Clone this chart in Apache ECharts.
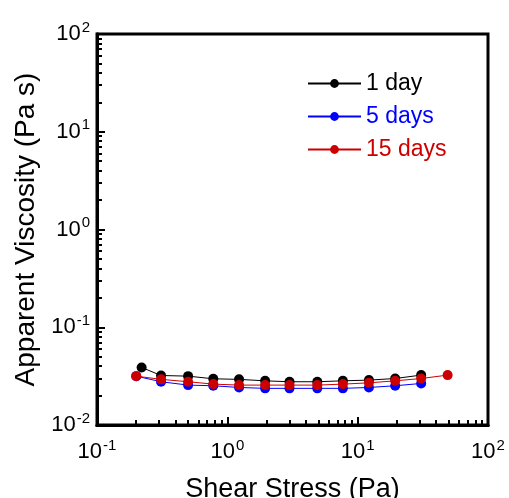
<!DOCTYPE html>
<html><head><meta charset="utf-8">
<script src="https://cdn.jsdelivr.net/npm/echarts@6/dist/echarts.min.js"></script>
<style>html,body{margin:0;padding:0;background:#fff}#c{width:509px;height:498px}</style>
</head><body><div id="c"></div>
<script>
// Shear stress (Pa) and apparent viscosity (Pa s)
const stress1 = [0.22, 0.31, 0.5, 0.78, 1.23, 1.95, 3.0, 4.9, 7.7, 12.2, 19.4, 30.7];
const visc1   = [0.0388, 0.0321, 0.0316, 0.0297, 0.0293, 0.0283, 0.0277, 0.0277, 0.0283, 0.0288, 0.0299, 0.0324];
const stress5 = [0.2, 0.31, 0.5, 0.78, 1.23, 1.95, 3.0, 4.9, 7.7, 12.2, 19.4, 30.7];
const visc5   = [0.0316, 0.0277, 0.0256, 0.0252, 0.0242, 0.0237, 0.0237, 0.0237, 0.0237, 0.0242, 0.0252, 0.0266];
const stress15 = [0.2, 0.31, 0.5, 0.78, 1.23, 1.95, 3.0, 4.9, 7.7, 12.2, 19.4, 30.7, 49];
const visc15   = [0.0316, 0.0293, 0.0277, 0.0262, 0.0256, 0.0256, 0.0256, 0.0256, 0.0262, 0.027, 0.0283, 0.0299, 0.0324];
const seriesNames = ['1 day', '5 days', '15 days'];
const seriesColors = ['#000000', '#0000ff', '#cc0000'];
const xMinorTicks = [0.2,0.3,0.4,0.5,0.6,0.7,0.8,0.9,2,3,4,5,6,7,8,9,20,30,40,50,60,70,80,90];
const yMinorTicks = [0.02,0.03,0.04,0.05,0.06,0.07,0.08,0.09,0.2,0.3,0.4,0.5,0.6,0.7,0.8,0.9,2,3,4,5,6,7,8,9,20,30,40,50,60,70,80,90];

const FONT = 'Liberation Sans';
const pairs = (xs, ys) => xs.map((x, i) => [x, ys[i]]);
const richLabel = {
  b: {fontSize: 22, fontFamily: FONT, color: '#000', verticalAlign: 'bottom', padding: [3, 0, 3, 0]},
  s: {fontSize: 15, fontFamily: FONT, color: '#000', verticalAlign: 'top', padding: [0, 0, 0, 1]}
};
const fmt = v => '{b|10}{s|' + Math.round(Math.log10(v)) + '}';

const chart = echarts.init(document.getElementById('c'), null, {renderer: 'canvas'});
chart.setOption({
  animation: false,
  backgroundColor: '#fff',
  grid: {left: 97, right: 21, top: 34, bottom: 73, show: true, borderColor: '#000', borderWidth: 3,
         containLabel: false, outerBoundsMode: 'none'},
  legend: {
    orient: 'vertical', left: 302, top: 67, itemWidth: 53, itemHeight: 11, itemGap: 10,
    textStyle: {fontSize: 23, fontFamily: FONT},
    data: seriesNames.map((n, i) => ({name: n, textStyle: {color: seriesColors[i]}}))
  },
  xAxis: [{
    type: 'log', min: 0.1, max: 100, position: 'bottom',
    name: 'Shear Stress (Pa)', nameLocation: 'middle', nameGap: 51,
    nameTextStyle: {fontSize: 27, fontFamily: FONT, color: '#000'},
    axisLine: {show: true, lineStyle: {color: '#000', width: 3}},
    axisTick: {show: true, inside: true, length: 8, lineStyle: {color: '#000', width: 2}},
    axisLabel: {formatter: fmt, rich: richLabel, margin: 13},
    splitLine: {show: false}
  }, {
    type: 'log', min: 0.1, max: 100, position: 'bottom',
    axisLine: {show: true, lineStyle: {color: '#000', width: 3}},
    axisTick: {show: true, inside: true, length: 5, customValues: xMinorTicks, lineStyle: {color: '#000', width: 2}},
    axisLabel: {show: false}, splitLine: {show: false}
  }],
  yAxis: [{
    type: 'log', min: 0.01, max: 100, position: 'left',
    name: 'Apparent Viscosity (Pa s)', nameLocation: 'middle', nameGap: 54,
    nameTextStyle: {fontSize: 28, fontFamily: FONT, color: '#000'},
    axisLine: {show: true, lineStyle: {color: '#000', width: 3}},
    axisTick: {show: true, inside: true, length: 8, lineStyle: {color: '#000', width: 2}},
    axisLabel: {formatter: fmt, rich: richLabel, margin: 7},
    splitLine: {show: false}
  }, {
    type: 'log', min: 0.01, max: 100, position: 'left',
    axisLine: {show: true, lineStyle: {color: '#000', width: 3}},
    axisTick: {show: true, inside: true, length: 5, customValues: yMinorTicks, lineStyle: {color: '#000', width: 2}},
    axisLabel: {show: false}, splitLine: {show: false}
  }],
  series: [
    {name: seriesNames[0], data: pairs(stress1, visc1)},
    {name: seriesNames[1], data: pairs(stress5, visc5)},
    {name: seriesNames[2], data: pairs(stress15, visc15)}
  ].map((s, i) => Object.assign({
    type: 'line', xAxisIndex: 0, yAxisIndex: 0, symbol: 'circle', symbolSize: 10,
    color: seriesColors[i], lineStyle: {width: 1, color: seriesColors[i]},
    itemStyle: {color: seriesColors[i]}
  }, s))
});
</script></body></html>
